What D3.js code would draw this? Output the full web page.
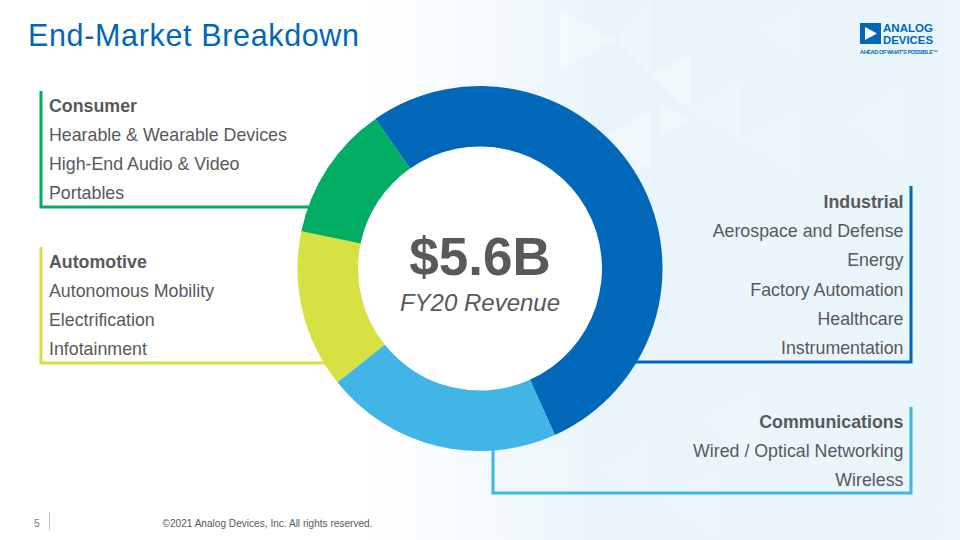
<!DOCTYPE html>
<html>
<head>
<meta charset="utf-8">
<script src="https://cdn.jsdelivr.net/npm/d3@7"></script>
<style>
    html, body { margin: 0; padding: 0; background: #fff; }
    svg { display: block; font-family: 'Liberation Sans', Arial, sans-serif; }
</style>
</head>
<body>
<svg id="chart" width="960" height="540"></svg>
<script>
// FY20 revenue share by end market (percent)
const segments = ['Industrial', 'Communications', 'Automotive', 'Consumer'];
const shares = [53, 21, 14, 12];
const segmentColors = ['#0067b9', '#41b6e6', '#d7e242', '#00ad63'];
const applications = [
    ['Aerospace and Defense', 'Energy', 'Factory Automation', 'Healthcare', 'Instrumentation'],
    ['Wired / Optical Networking', 'Wireless'],
    ['Autonomous Mobility', 'Electrification', 'Infotainment'],
    ['Hearable & Wearable Devices', 'High-End Audio & Video', 'Portables']
];
const totalLabel = '$5.6B';
const totalCaption = 'FY20 Revenue';

const TEXT = '#58595b';
const cx = 480, cy = 268.5, R = 182.5, r = 122;

const svg = d3.select('#chart');

// background: white fading into light blue with faint triangles
const defs = svg.append('defs');
const grad = defs.append('linearGradient').attr('id', 'bg').attr('x1', 0).attr('x2', 1).attr('y1', 0).attr('y2', 0);
grad.append('stop').attr('offset', '0.38').attr('stop-color', '#ffffff');
grad.append('stop').attr('offset', '0.62').attr('stop-color', '#eaf5fb');
grad.append('stop').attr('offset', '1').attr('stop-color', '#eaf6fc');
svg.append('rect').attr('width', 960).attr('height', 540).attr('fill', 'url(#bg)');

const tri = svg.append('g').attr('fill', '#ffffff');
const triangles = [
    [[560, 10], [615, 40], [560, 70], 0.35],
    [[615, 40], [650, 0], [650, 75], 0.25],
    [[650, 75], [690, 55], [690, 110], 0.3],
    [[690, 110], [740, 80], [740, 140], 0.15],
    [[600, 140], [650, 110], [650, 170], 0.3],
    [[660, 105], [690, 120], [660, 135], 0.3],
    [[740, 140], [800, 110], [800, 175], 0.18],
    [[760, 30], [800, 10], [800, 55], 0.15],
    [[610, 180], [640, 160], [640, 210], 0.25],
    [[700, 420], [760, 390], [760, 460], 0.15],
    [[600, 470], [650, 440], [650, 500], 0.18],
    [[660, 500], [720, 470], [720, 540], 0.12],
    [[850, 120], [900, 90], [900, 160], 0.12],
    [[520, 470], [570, 440], [570, 510], 0.2]
];
triangles.forEach((t) => {
    tri.append('polygon')
        .attr('points', t.slice(0, 3).map((p) => p.join(',')).join(' '))
        .attr('opacity', t[3]);
});

// title
svg.append('text')
    .attr('x', 28)
    .attr('y', 45.5)
    .attr('fill', '#0067b9')
    .style('font-size', '30.5px')
    .attr('textLength', 331)
    .text('End-Market Breakdown');

// logo
const logo = svg.append('g').attr('fill', '#0067b9');
logo.append('rect').attr('x', 860).attr('y', 23).attr('width', 21).attr('height', 21);
logo.append('polygon').attr('points', '865,27 877,33.5 865,40').attr('fill', '#fff');
logo.append('text').attr('x', 883).attr('y', 32.3).attr('textLength', 50).attr('lengthAdjust', 'spacingAndGlyphs')
    .style('font-size', '10px').style('font-weight', 'bold').text('ANALOG');
logo.append('text').attr('x', 883).attr('y', 43.6).attr('textLength', 50).attr('lengthAdjust', 'spacingAndGlyphs')
    .style('font-size', '10px').style('font-weight', 'bold').text('DEVICES');
logo.append('text').attr('x', 860).attr('y', 54)
    .style('font-size', '5.5px').style('font-weight', 'bold').attr('textLength', 78).text('AHEAD OF WHAT\u2019S POSSIBLE\u2122');

// brackets joining each label block to its slice
const edgeX = (y, side) => cx + side * Math.sqrt(R * R - (y - cy) * (y - cy));
const brackets = svg.append('g').attr('fill', 'none').attr('stroke-width', 3);
// Consumer
brackets.append('path').attr('stroke', segmentColors[3])
    .attr('d', `M41,91 V207 H${edgeX(207, -1) + 2}`);
// Automotive
brackets.append('path').attr('stroke', segmentColors[2])
    .attr('d', `M41,247 V363 H${edgeX(363, -1) + 2}`);
// Industrial
brackets.append('path').attr('stroke', segmentColors[0])
    .attr('d', `M911,186 V362 H${edgeX(362, 1) - 2}`);
// Communications
brackets.append('path').attr('stroke', segmentColors[1])
    .attr('d', `M493,${cy + R - 3} V493 H911 V407`);

// donut
const pie = d3.pie().sort(null).value((d) => d)
    .startAngle(-35 * Math.PI / 180)
    .endAngle(-35 * Math.PI / 180 + 2 * Math.PI);
const arc = d3.arc().innerRadius(r).outerRadius(R);

const donut = svg.append('g').attr('transform', `translate(${cx},${cy})`);
donut.append('circle').attr('r', r).attr('fill', '#fff');
donut.selectAll('path')
    .data(pie(shares))
    .enter()
    .append('path')
    .attr('d', arc)
    .attr('fill', (d, i) => segmentColors[i]);

donut.append('text')
    .attr('y', 6.5)
    .attr('text-anchor', 'middle')
    .attr('fill', TEXT)
    .style('font-size', '53px')
    .style('font-weight', 'bold')
    .text(totalLabel);
donut.append('text')
    .attr('y', 42)
    .attr('text-anchor', 'middle')
    .attr('fill', TEXT)
    .style('font-size', '24px')
    .style('font-style', 'italic')
    .text(totalCaption);

// segment labels: [segment index, x, first baseline, anchor]
const labelBlocks = [
    [3, 49, 111.5, 'start'],
    [2, 49, 267.5, 'start'],
    [0, 903.5, 208, 'end'],
    [1, 903.5, 428, 'end']
];
const LINE = 29.2;
labelBlocks.forEach(([i, x, y0, anchor]) => {
    const g = svg.append('g').attr('text-anchor', anchor).attr('fill', TEXT);
    g.append('text').attr('x', x).attr('y', y0)
        .style('font-size', '17.8px').style('font-weight', 'bold')
        .text(segments[i]);
    g.selectAll('text.app')
        .data(applications[i])
        .enter()
        .append('text')
        .attr('class', 'app')
        .attr('x', x)
        .attr('y', (d, k) => y0 + LINE * (k + 1))
        .style('font-size', '17.8px')
        .text((d) => d);
});

// footer
svg.append('text').attr('x', 34).attr('y', 526.5).attr('fill', '#7f7f7f')
    .style('font-size', '10.5px').text('5');
svg.append('line').attr('x1', 49.5).attr('x2', 49.5).attr('y1', 512).attr('y2', 530)
    .attr('stroke', '#bfbfbf').attr('stroke-width', 1);
svg.append('text').attr('x', 162.5).attr('y', 526.5).attr('fill', '#595959')
    .style('font-size', '10.1px').text('\u00a92021 Analog Devices, Inc. All rights reserved.');
</script>
</body>
</html>
